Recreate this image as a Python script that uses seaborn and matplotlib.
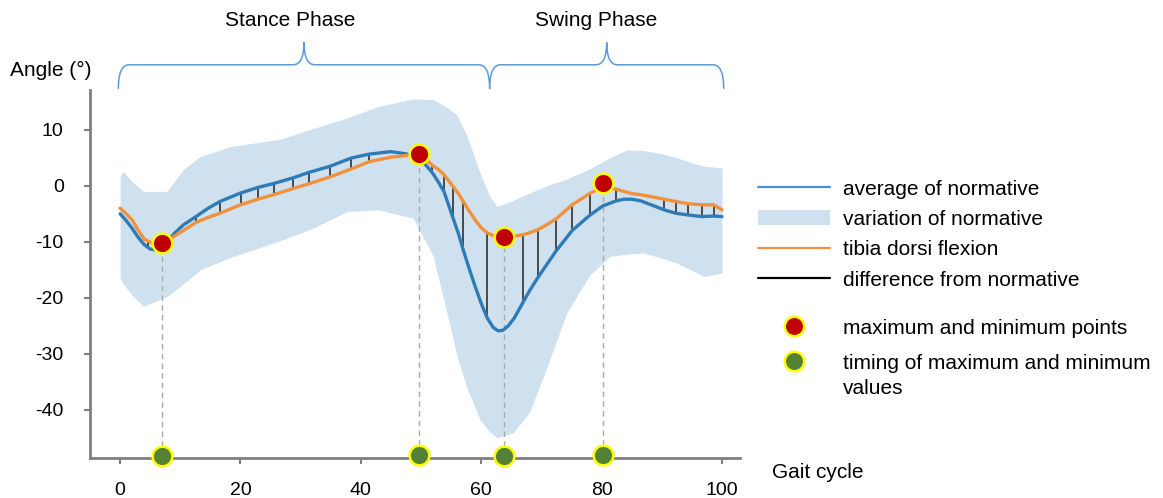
import numpy as np
import pandas as pd
import matplotlib.pyplot as plt
import seaborn as sns
from matplotlib.path import Path
from matplotlib.patches import PathPatch, Patch
from matplotlib.lines import Line2D

sns.set_style("ticks")
plt.rcParams['font.family'] = ['Liberation Sans', 'DejaVu Sans']
plt.rcParams['axes.unicode_minus'] = False
plt.rcParams['text.color'] = 'black'

# gait cycle (%) and curves
gait = [0, 1, 2, 3, 4, 5, 6, 7, 8, 9, 10.5, 12.6, 14.5, 16.6, 20, 22.9, 25.5, 28.7, 31.4,
        34.8, 38.4, 41.4, 45, 47.5, 49.7, 50.8, 51.9, 52.8, 53.8, 55.3, 56.2, 57, 58, 59,
        60, 61, 62, 62.8, 63.6, 64.5, 65.5, 66.9, 68, 69.4, 70.8, 72.4, 75.1, 78, 80.2,
        82.4, 83.7, 85, 86.5, 88, 90.4, 92.3, 94.3, 96.7, 98.6, 100]
normative_avg = [-5.0, -6.2, -7.6, -9.2, -10.5, -11.3, -11.5, -11.0, -9.8, -8.5, -7.0,
                 -5.5, -4.1, -2.8, -1.3, -0.3, 0.4, 1.4, 2.4, 3.45, 4.95, 5.65, 6.1, 5.7,
                 4.9, 3.7, 2.3, 0.8, -1.0, -5.7, -8.5, -11.4, -14.8, -18.0, -21.0, -23.6,
                 -25.3, -25.9, -25.8, -25.0, -23.6, -20.9, -18.8, -16.4, -14.2, -11.7,
                 -8.0, -5.3, -3.6, -2.7, -2.4, -2.4, -2.7, -3.3, -4.3, -4.9, -5.2, -5.5,
                 -5.4, -5.5]
tibia = [-4.0, -5.0, -6.1, -7.9, -9.5, -10.1, -10.3, -10.3, -9.8, -9.0, -8.0, -6.55, -5.7,
         -4.9, -3.4, -2.4, -1.6, -0.5, 0.36, 1.55, 3.0, 4.3, 5.1, 5.4, 5.65, 4.8, 3.6,
         3.0, 2.0, -0.1, -1.4, -2.8, -4.5, -6.1, -7.5, -8.4, -8.9, -9.0, -9.1, -9.1, -9.0,
         -8.75, -8.4, -7.86, -7.0, -5.95, -3.4, -1.4, -0.2, -0.6, -1.0, -1.4, -1.6, -1.9,
         -2.4, -2.8, -3.2, -3.4, -3.4, -4.3]

# variation band of normative
band_x = [0, 0.5, 2.2, 3.9, 7.8, 10.5, 13.3, 18.3, 26.6, 32, 37.7, 43, 48.7, 52, 54.3,
          56, 57.6, 59.8, 61.5, 62.6, 65.3, 68, 71.4, 74.2, 78, 81.4, 84.2, 86.9, 89.7,
          92.5, 95.2, 97, 100]
band_upper = [1.5, 2.6, 0.5, -1.0, -1.0, 2.9, 5.2, 7.0, 8.3, 10.2, 12.1, 14.2, 15.5,
              15.4, 14, 12.6, 9.0, 2.3, -2.0, -3.7, -2.6, -1.3, 0.2, 1.2, 3.0, 5.0, 6.4,
              6.3, 5.8, 5.0, 4.0, 3.5, 3.2]
band_lower = [-16.5, -17.5, -19.8, -21.5, -19.8, -17.5, -15.0, -12.8, -9.8, -7.6, -4.6,
              -4.3, -5.8, -12.5, -22.7, -30.5, -36, -41.8, -44, -45, -44.1, -40.5, -31,
              -22.7, -16, -12.6, -12.2, -12, -12.8, -13.8, -15.2, -16.2, -15.6]

# where the difference bars are drawn
diff_x = [4.7, 12.6, 16.6, 20.1, 22.9, 25.5, 28.7, 31.4, 34.8, 38.4, 41.4, 51.9, 53.8,
          55.3, 57, 61, 66.9, 69.4, 72.4, 75.1, 78, 82.4, 90.4, 92.3, 94.3, 96.7, 98.6]

# max / min points of tibia curve
ext_x = [6.9, 49.7, 63.8, 80.2]
ext_y = [-10.2, 5.65, -9.1, 0.45]
timing_y = [-48.3, -48.1, -48.2, -48.0]

blue = '#2f7bb6'
orange = '#f0913c'
band_col = '#cfe1ef'

fig = plt.figure(figsize=(11.63, 4.98), dpi=100)
ax = fig.add_axes([0.0774, 0.0803, 0.5589, 0.739])

ax.fill_between(band_x, band_lower, band_upper, color=band_col, linewidth=0, zorder=1)
sns.lineplot(x=gait, y=normative_avg, ax=ax, color=blue, linewidth=2.4, zorder=3)
sns.lineplot(x=gait, y=tibia, ax=ax, color=orange, linewidth=2.4, zorder=3)

d_blue = np.interp(diff_x, gait, normative_avg)
d_tib = np.interp(diff_x, gait, tibia)
ax.vlines(diff_x, d_blue, d_tib, color='#222222', linewidth=1.1, zorder=2)

ax.vlines(ext_x, timing_y, ext_y, color='#aaaaaa', linewidth=1, linestyles=(0, (4, 3)), zorder=2)
sns.scatterplot(x=ext_x, y=ext_y, ax=ax, s=200, color='#c00000', edgecolor='#ffff00',
                linewidth=1.8, zorder=5)
sns.scatterplot(x=ext_x, y=timing_y, ax=ax, s=200, color='#548235', edgecolor='#ffff00',
                linewidth=1.8, zorder=6)
ax.collections[-1].set_clip_on(False)

ax.set_xlim(-5, 103)
ax.set_ylim(-48.6, 17.1)
ax.set_xticks([0, 20, 40, 60, 80, 100])
ax.set_yticks([-40, -30, -20, -10, 0, 10])
ax.set_xlabel('')
ax.set_ylabel('')
sns.despine(ax=ax)
for s in ['left', 'bottom']:
    ax.spines[s].set_color('#808080')
    ax.spines[s].set_linewidth(2)
ax.tick_params(axis='both', colors='#808080', width=1.5, length=4, labelsize=14,
               labelcolor='black')
ax.tick_params(axis='x', pad=13)
ax.tick_params(axis='y', pad=15)


def brace(x0, x1, ybot=17.3, yline=21.6, ytip=25.6, r=1.8):
    xm = (x0 + x1) / 2
    verts = [(x0, ybot), (x0, yline), (x0 + r, yline), (xm - r, yline),
             (xm, yline), (xm, ytip), (xm, yline), (xm + r, yline),
             (x1 - r, yline), (x1, yline), (x1, ybot)]
    codes = [Path.MOVETO, Path.CURVE3, Path.CURVE3, Path.LINETO,
             Path.CURVE3, Path.CURVE3, Path.CURVE3, Path.CURVE3,
             Path.LINETO, Path.CURVE3, Path.CURVE3]
    ax.add_patch(PathPatch(Path(verts, codes), fill=False, edgecolor='#5b9bd5',
                           linewidth=1.1, clip_on=False))


brace(-0.3, 61.4)
brace(61.4, 100.3)

fig.text(0.2494, 0.958, 'Stance Phase', ha='center', va='center', fontsize=15)
fig.text(0.513, 0.958, 'Swing Phase', ha='center', va='center', fontsize=15)
fig.text(0.009, 0.859, 'Angle (°)', ha='left', va='center', fontsize=15)
fig.text(0.664, 0.052, 'Gait cycle', ha='left', va='center', fontsize=15)

h1 = [Line2D([], [], color='#4a90d0', linewidth=1.6),
      Patch(facecolor=band_col, edgecolor='none'),
      Line2D([], [], color=orange, linewidth=1.6),
      Line2D([], [], color='black', linewidth=1.6)]
l1 = ['average of normative', 'variation of normative', 'tibia dorsi flexion',
      'difference from normative']
leg1 = fig.legend(h1, l1, loc='upper left', bbox_to_anchor=(0.652, 0.639), frameon=False,
                  fontsize=15, handlelength=3.46, handletextpad=0.63, labelspacing=0.54,
                  borderpad=0, borderaxespad=0)

h2 = [Line2D([], [], marker='o', linestyle='none', markersize=14, markerfacecolor='#c00000',
             markeredgecolor='#ffff00', markeredgewidth=1.8),
      Line2D([], [], marker='o', linestyle='none', markersize=14, markerfacecolor='#548235',
             markeredgecolor='#ffff00', markeredgewidth=1.8)]
l2 = ['maximum and minimum points', 'timing of maximum and minimum']
leg2 = fig.legend(h2, l2, loc='upper left', bbox_to_anchor=(0.652, 0.360), frameon=False,
                  fontsize=15, handlelength=3.46, handletextpad=0.63, labelspacing=0.77,
                  borderpad=0, borderaxespad=0)
fig.text(0.7249, 0.219, 'values', ha='left', va='center', fontsize=15)

fig.savefig('out.png', dpi=100)
